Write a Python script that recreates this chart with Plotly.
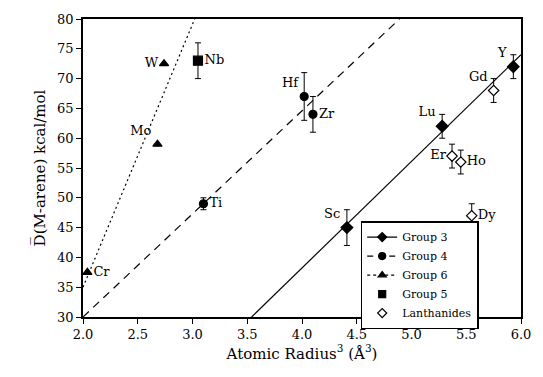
import plotly.graph_objects as go

# ---- data ----
g3_names = ["Sc", "Lu", "Y"]
g3_x = [4.41, 5.28, 5.93]
g3_y = [45, 62, 72]
g3_err = [3, 2, 2]
g3_pos = ["top left", "top left", "top left"]

g4_names = ["Ti", "Hf", "Zr"]
g4_x = [3.10, 4.02, 4.10]
g4_y = [49, 67, 64]
g4_err = [1, 4, 3]
g4_pos = ["middle right", "top left", "middle right"]

g6_names = ["Cr", "Mo", "W"]
g6_x = [2.04, 2.68, 2.74]
g6_y = [37.5, 59, 72.5]
g6_pos = ["middle right", "top left", "middle left"]

g5_names = ["Nb"]
g5_x = [3.05]
g5_y = [73]
g5_err = [3]
g5_pos = ["middle right"]

ln_names = ["Er", "Ho", "Dy", "Gd"]
ln_x = [5.37, 5.45, 5.55, 5.75]
ln_y = [57, 56, 47, 68]
ln_err = [2, 2, 2, 2]
ln_pos = ["middle left", "middle right", "middle right", "top left"]

# fitted lines (endpoints)
fit3_x = [3.54, 6.0]
fit3_y = [30, 74]
fit4_x = [2.0, 4.89]
fit4_y = [30, 80]
fit6_x = [2.0, 3.02]
fit6_y = [35, 80]

FONT = "DejaVu Serif"
lblfont = dict(family=FONT, size=13, color="black")

fig = go.Figure()

# fit lines
fig.add_trace(go.Scatter(x=fit3_x, y=fit3_y, mode="lines", showlegend=False,
                         line=dict(color="black", width=1.2)))
fig.add_trace(go.Scatter(x=fit4_x, y=fit4_y, mode="lines", showlegend=False,
                         line=dict(color="black", width=1.2, dash="8px,6px")))
fig.add_trace(go.Scatter(x=fit6_x, y=fit6_y, mode="lines", showlegend=False,
                         line=dict(color="black", width=1.2, dash="2px,3px")))

def pts(x, y, names, pos, symbol, err=None, size=8):
    kw = {}
    if err is not None:
        kw["error_y"] = dict(type="data", array=err, visible=True,
                             color="black", thickness=1, width=3)
    return go.Scatter(x=x, y=y, mode="markers+text", text=names,
                      textposition=pos, textfont=lblfont, showlegend=False,
                      marker=dict(symbol=symbol, size=size, color="black",
                                  line=dict(color="black", width=1.2)),
                      cliponaxis=False, **kw)

fig.add_trace(pts(g3_x, g3_y, g3_names, g3_pos, "diamond", g3_err, 9))
fig.add_trace(pts(g4_x, g4_y, g4_names, g4_pos, "circle", g4_err, 8))
fig.add_trace(pts(g6_x, g6_y, g6_names, g6_pos, "triangle-up", None, 8))
fig.add_trace(pts(g5_x, g5_y, g5_names, g5_pos, "square", g5_err, 9))
t = pts(ln_x, ln_y, ln_names, ln_pos, "diamond", ln_err, 8)
t.marker.color = "white"
fig.add_trace(t)

# legend entries
leg = [
    ("Group 3", "diamond", "solid", "lines+markers", "black"),
    ("Group 4", "circle", "6px,5px", "lines+markers", "black"),
    ("Group 6", "triangle-up", "3px,3px", "lines+markers", "black"),
    ("Group 5", "square", "solid", "markers", "black"),
    ("Lanthanides", "diamond", "solid", "markers", "white"),
]
for name, sym, dash, mode, fill in leg:
    fig.add_trace(go.Scatter(x=[None], y=[None], mode=mode, name=name,
                             line=dict(color="black", width=1.2, dash=dash),
                             marker=dict(symbol=sym, size=7, color=fill,
                                         line=dict(color="black", width=1.2))))

fig.update_layout(
    width=543, height=377,
    margin=dict(l=83, r=15, t=17, b=60),
    paper_bgcolor="white", plot_bgcolor="white",
    font=dict(family=FONT, size=13, color="black"),
    legend=dict(x=0.634, y=0.322, xanchor="left", yanchor="top",
                bordercolor="black", borderwidth=1.5, bgcolor="white",
                font=dict(family=FONT, size=11, color="black"),
                tracegroupgap=0, itemwidth=30),
    xaxis=dict(range=[2.0, 6.0], dtick=0.5, tickformat=".1f",
               showline=True, linecolor="black", linewidth=1.5, mirror=True,
               ticks="outside", ticklen=5, tickcolor="black", showgrid=False,
               zeroline=False, tickfont=dict(family=FONT, size=13),
               title=dict(text="Atomic Radius<sup>3</sup> (Å<sup>3</sup>)",
                          font=dict(family=FONT, size=15), standoff=6)),
    yaxis=dict(range=[30, 80], dtick=5,
               showline=True, linecolor="black", linewidth=1.5, mirror=True,
               ticks="outside", ticklen=5, tickcolor="black", showgrid=False,
               zeroline=False, tickfont=dict(family=FONT, size=13),
               title=dict(text="D\u0305(M-arene) kcal/mol",
                          font=dict(family=FONT, size=15), standoff=8)),
)

fig.write_html("out.html")
